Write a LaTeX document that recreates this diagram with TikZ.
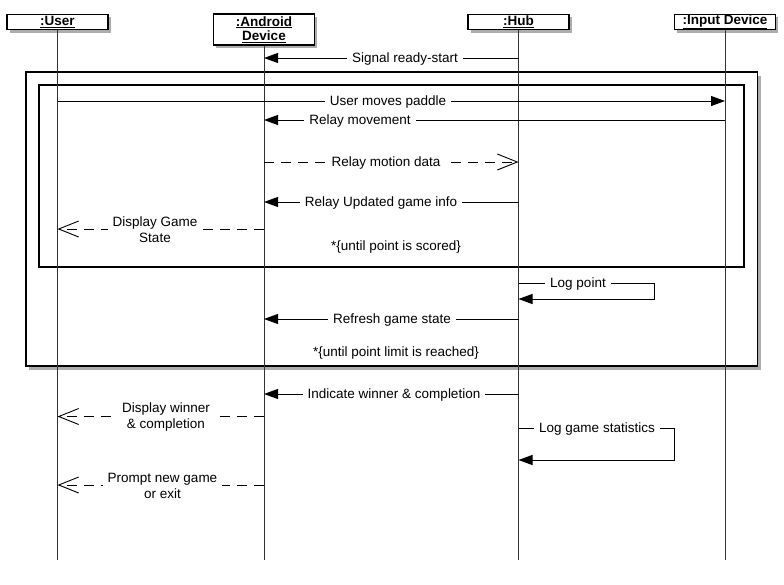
\documentclass[tikz,border=0pt]{standalone}
\usepackage{fontspec}
\setmainfont{Liberation Sans}
\usetikzlibrary{arrows.meta,shadows}
\begin{document}
\begin{tikzpicture}[x=1pt,y=-1pt,
  every node/.style={font=\fontsize{13.5}{16}\selectfont},
  head/.style={draw=black, line width=1.1pt, fill=white, minimum width=101pt,
    inner sep=0pt, align=center, font=\fontsize{13.5}{14.5}\selectfont\bfseries,
    drop shadow={shadow xshift=2.5pt,shadow yshift=-3pt,opacity=0.4,fill=black!80}},
  lifeline/.style={line width=1pt, draw=black!80},
  msg/.style={line width=1pt, -{Triangle[length=14pt,width=10pt]}},
  reply/.style={line width=1pt, dash pattern=on 10pt off 7pt,
    -{Straight Barb[length=20pt,width=16pt,line width=0.9pt]}},
  lbl/.style={fill=white, inner xsep=5pt, inner ysep=1pt, align=center, yshift=-0.8pt},
  loopbox/.style={line width=1.2pt, draw=black}
]
\useasboundingbox (0,0) rectangle (784,584);
% loop frames
\draw[loopbox, fill=white, drop shadow={shadow xshift=3pt,shadow yshift=-4pt,opacity=0.4,fill=black!80}] (26,72) rectangle (757.5,366);
\draw[loopbox] (39,85) rectangle (744,267);
% heads
\node[head, minimum height=15.5pt] (user) at (57.5,22) {\underline{:User}};
\node[head, minimum height=31pt] (andr) at (264,29.5) {\underline{:Android}\\\underline{Device}};
\node[head, minimum height=15.5pt] (hub) at (518.5,22) {\underline{:Hub}};
\node[head, minimum height=15.5pt] (inp) at (725,22) {\underline{:Input Device}};
% lifeline ends
\coordinate (userEnd) at (user |- 0,560);
\coordinate (andrEnd) at (andr |- 0,560);
\coordinate (hubEnd) at (hub |- 0,560);
\coordinate (inpEnd) at (inp |- 0,560);
\draw[lifeline] (user.south) -- (userEnd);
\draw[lifeline] (andr.south) -- (andrEnd);
\draw[lifeline] (hub.south) -- (hubEnd);
\draw[lifeline] (inp.south) -- (inpEnd);
% messages
\draw[msg] (hub |- 0,58) -- (andr |- 0,58);
\node[lbl] (m1) at (405,58) {Signal ready-start};
\draw[msg] (user |- 0,101) -- (inp |- 0,101);
\node[lbl] (m2) at (388,101) {User moves paddle};
\draw[msg] (inp |- 0,120) -- (andr |- 0,120);
\node[lbl] (m3) at (360,120) {Relay movement};
\draw[reply] (andr |- 0,162) -- (hub |- 0,162);
\node[lbl] (m4) at (386,162) {Relay motion data};
\draw[msg] (hub |- 0,202) -- (andr |- 0,202);
\node[lbl] (m5) at (381,202) {Relay Updated game info};
\draw[reply] (andr |- 0,229) -- (user |- 0,229);
\node[lbl] (m6) at (155,229) {Display Game\\State};
\node (c1) at (396,247.5) {*\{until point is scored\}};
\coordinate (lpR) at (654,283);
\draw[msg] (hub |- 0,283) -- (lpR) |- (hub |- 0,299);
\node[lbl] (m7) at (578,283) {Log point};
\draw[msg] (hub |- 0,319) -- (andr |- 0,319);
\node[lbl] (m8) at (392,319) {Refresh game state};
\node (c2) at (396,353.5) {*\{until point limit is reached\}};
\draw[msg] (hub |- 0,394) -- (andr |- 0,394);
\node[lbl] (m9) at (394,394) {Indicate winner \& completion};
\draw[reply] (andr |- 0,416.5) -- (user |- 0,416.5);
\node[lbl] (m10) at (166,416.5) {Display winner\\\& completion};
\coordinate (lgR) at (674,428);
\draw[msg] (hub |- 0,428) -- (lgR) |- (hub |- 0,460);
\node[lbl] (m11) at (597,428) {Log game statistics};
\draw[reply] (andr |- 0,485) -- (user |- 0,485);
\node[lbl] (m12) at (162.5,485) {Prompt new game\\or exit};
\end{tikzpicture}
\end{document}
